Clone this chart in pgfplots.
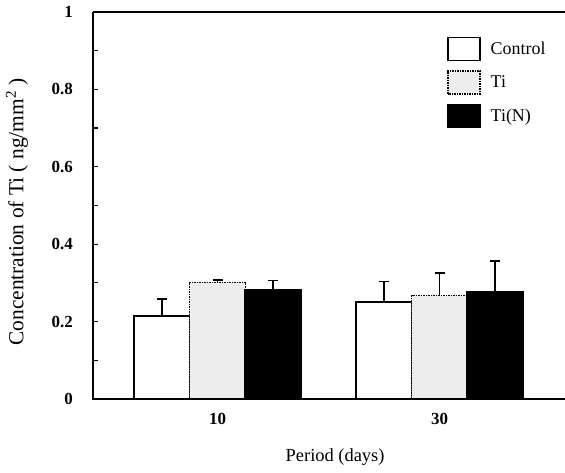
\documentclass[border=0pt]{standalone}
\usepackage{pgfplots}
\pgfplotsset{compat=1.18}
\usepackage{fontspec}
\setmainfont{Liberation Serif}
\begin{document}
\begin{tikzpicture}
\begin{axis}[
  at={(0,0)}, anchor=south west,
  scale only axis, width=472bp, height=387bp,
  xmin=-0.561, xmax=1.565, ymin=0, ymax=1,
  clip=false,
  axis line style={draw=none},
  xtick={0,1}, xticklabels={10,30}, xtick style={draw=none},
  ytick={0,0.2,0.4,0.6,0.8,1}, yticklabels={0,0.2,0.4,0.6,0.8,1},
  minor ytick={0.1,0.3,0.5,0.7,0.9},
  ytick pos=left, tick align=inside,
  major tick length=5bp, minor tick length=5bp,
  ytick style={line width=1.2bp, black},
  minor y tick style={line width=1.2bp, black},
  yticklabel style={font=\fontsize{17}{17}\selectfont\bfseries, anchor=east, inner sep=0pt, xshift=-20bp},
  xticklabel style={font=\fontsize{17}{17}\selectfont\bfseries, anchor=center, inner sep=0pt, yshift=-20bp},
  ylabel={Concentration of Ti ( ng/mm\textsuperscript{2} )},
  ylabel style={at={(rel axis cs:-0.161,0.483)}, anchor=center, font=\fontsize{21.5}{21.5}\selectfont},
  xlabel={Period (days)},
  xlabel style={at={(rel axis cs:0.513,-0.150)}, anchor=center, font=\fontsize{18.5}{18.5}\selectfont},
  legend style={at={(rel axis cs:0.750,0.937)}, anchor=north west, draw=none, fill=none,
    inner sep=0pt, row sep=9bp, column sep=10bp, font=\fontsize{18}{18}\selectfont,
    nodes={inner sep=0pt}},
  legend cell align=left,
]
\addplot[ybar, bar width=56bp, bar shift=0bp, draw=black, fill=white, line width=1.5bp,
  legend image code/.code={\draw[draw=black, fill=white, line width=1.5bp] (0bp,-11.5bp) rectangle (32bp,11.5bp);},
  error bars/y dir=plus, error bars/y explicit,
  error bars/error bar style={line width=1.5bp, black},
  error bars/error mark options={rotate=90, mark size=5bp, line width=1.5bp, black}]
  coordinates {(-0.25,0.214) +- (0,0.045) (0.75,0.251) +- (0,0.053)};
\addplot[ybar, bar width=56bp, bar shift=0bp, draw=black, fill=black!7, line width=1.5bp, densely dotted,
  legend image code/.code={\draw[draw=black, fill=black!7, line width=1.5bp, densely dotted] (0bp,-11.5bp) rectangle (32bp,11.5bp);},
  error bars/y dir=plus, error bars/y explicit,
  error bars/error bar style={line width=1.5bp, black, solid},
  error bars/error mark options={rotate=90, mark size=5bp, line width=1.5bp, black, solid}]
  coordinates {(0,0.301) +- (0,0.006) (1,0.267) +- (0,0.059)};
\addplot[ybar, bar width=56bp, bar shift=0bp, draw=black, fill=black, line width=1.5bp,
  legend image code/.code={\draw[draw=black, fill=black, line width=1.5bp] (0bp,-11.5bp) rectangle (32bp,11.5bp);},
  error bars/y dir=plus, error bars/y explicit,
  error bars/error bar style={line width=1.5bp, black},
  error bars/error mark options={rotate=90, mark size=5bp, line width=1.5bp, black}]
  coordinates {(0.25,0.283) +- (0,0.023) (1.25,0.278) +- (0,0.078)};
\legend{Control,Ti,Ti(N)}
\draw[line width=2bp, black] (rel axis cs:0,1) -- (rel axis cs:0,0) -- (rel axis cs:1,0);
\draw[line width=2bp, black] (rel axis cs:0,1) -- (rel axis cs:1,1);
\end{axis}
\pgfresetboundingbox
\useasboundingbox (-93bp,-74bp) rectangle (472bp,399bp);
\end{tikzpicture}
\end{document}
